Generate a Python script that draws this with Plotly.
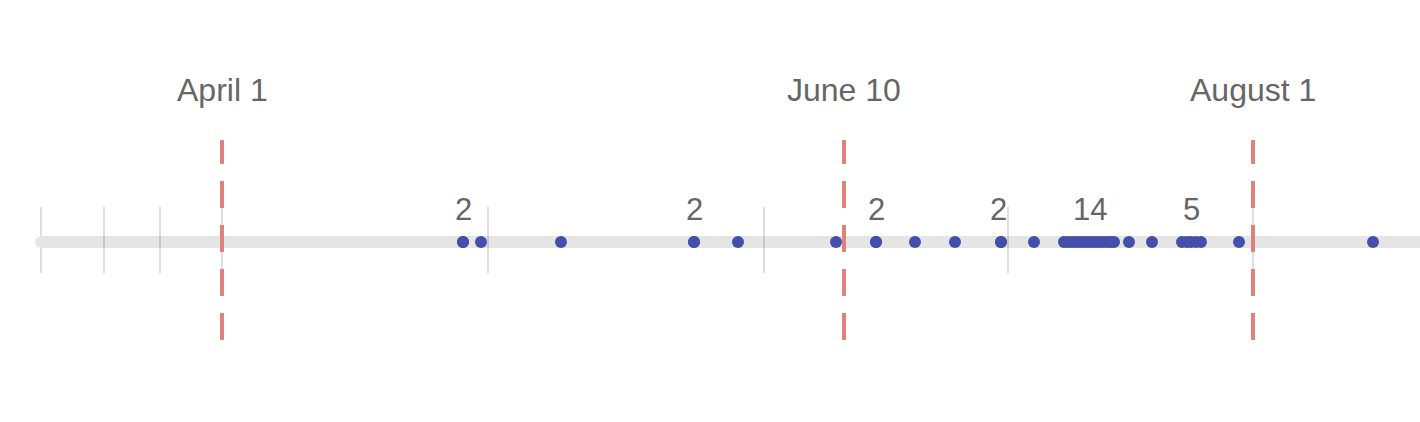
import plotly.graph_objects as go

# Timeline positions (chart units along the track)
track_start = 41
track_end = 1420
month_ticks = [41, 104, 160, 222, 488, 764, 1008, 1253]

marker_pos = [222, 844, 1253]
marker_labels = ["April 1", "June 10", "August 1"]

event_pos = [463, 463, 481, 561, 694, 694, 738, 836, 876, 876, 915, 955,
             1001, 1001, 1034,
             1064, 1068, 1072, 1076, 1080, 1084, 1088, 1092, 1096, 1100, 1104, 1108, 1111, 1114,
             1129, 1152,
             1182, 1187, 1191, 1196, 1201,
             1239, 1373]

count_pos = [463, 694, 876, 998, 1090, 1191]
count_text = ["2", "2", "2", "2", "14", "5"]

BLUE = "#434fab"
RED = "#e0827a"
TRACK = "#e5e5e5"
TICK = "rgba(0,0,0,0.13)"
TEXT = "#666666"
FONT = "Liberation Sans, Arial, Helvetica, sans-serif"

fig = go.Figure()

shapes = []
# track
shapes.append(dict(type="line", x0=track_start, x1=track_end, y0=0, y1=0,
                   line=dict(color=TRACK, width=12), layer="below"))
# month ticks
for t in month_ticks:
    shapes.append(dict(type="line", x0=t, x1=t, y0=-31, y1=35,
                       line=dict(color=TICK, width=2), layer="below"))
# red dashed markers
for m in marker_pos:
    shapes.append(dict(type="line", x0=m, x1=m, y0=-98, y1=102,
                       line=dict(color=RED, width=4, dash="27px,17px"), layer="above"))

# rounded cap at track start
fig.add_trace(go.Scatter(x=[track_start], y=[0], mode="markers",
                         marker=dict(color=TRACK, size=12), hoverinfo="skip"))

fig.add_trace(go.Scatter(x=event_pos, y=[0] * len(event_pos), mode="markers",
                         marker=dict(color=BLUE, size=12, line=dict(width=0)),
                         hoverinfo="x"))

annotations = []
for p, lab in zip(marker_pos, marker_labels):
    annotations.append(dict(x=p, y=152, text=lab, showarrow=False,
                            xanchor="center", yanchor="middle",
                            font=dict(family=FONT, size=32, color=TEXT)))
for p, lab in zip(count_pos, count_text):
    annotations.append(dict(x=p, y=33, text=lab, showarrow=False,
                            xanchor="center", yanchor="middle",
                            font=dict(family=FONT, size=31, color=TEXT)))

fig.update_layout(
    width=1420, height=422,
    margin=dict(l=0, r=0, t=0, b=0),
    paper_bgcolor="white", plot_bgcolor="white",
    showlegend=False,
    shapes=shapes,
    annotations=annotations,
    xaxis=dict(range=[0, 1420], visible=False, fixedrange=True),
    yaxis=dict(range=[-180, 242], visible=False, fixedrange=True),
)

fig.write_html("out.html",
               config={"displayModeBar": False},
               post_script="document.body.style.margin='0px';document.body.style.overflow='hidden';")
